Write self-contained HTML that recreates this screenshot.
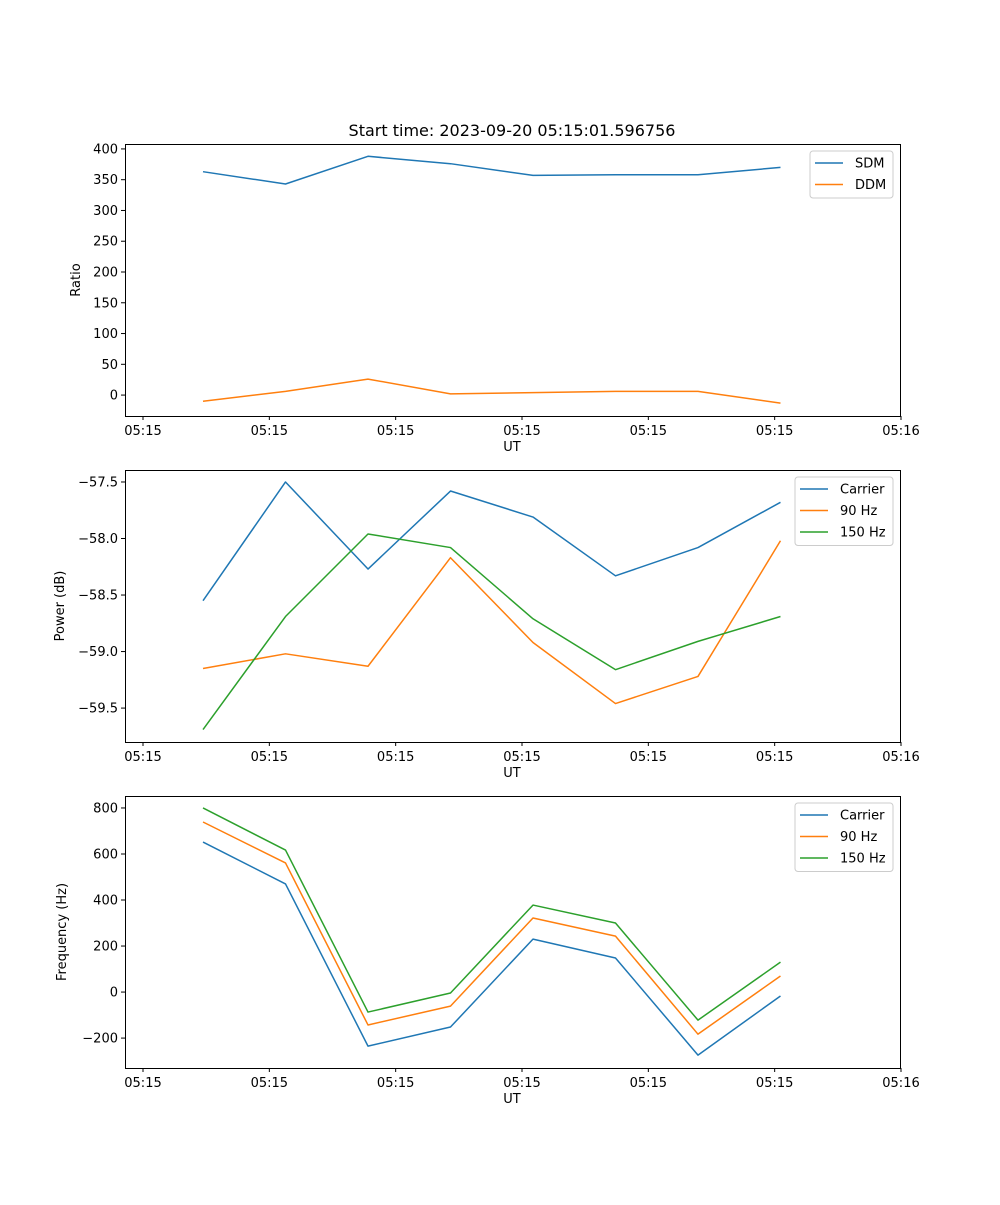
<!DOCTYPE html>
<html><head><meta charset="utf-8"><style>
body{margin:0;background:#fff}
svg text{font-family:"DejaVu Sans","Liberation Sans",sans-serif;font-size:13px;fill:#000}
</style></head><body>
<svg id="fig" width="1000" height="1200" xmlns="http://www.w3.org/2000/svg">
<rect width="1000" height="1200" fill="#fff"/>
<text x="512" y="136" text-anchor="middle" style="font-size:16px">Start time: 2023-09-20 05:15:01.596756</text>
</svg>
<script>
const xTimes = [4.75, 11.28, 17.81, 24.34, 30.87, 37.40, 43.93, 50.46];
const xTicks = [0, 10, 20, 30, 40, 50, 60];
const xTickLabels = ["05:15","05:15","05:15","05:15","05:15","05:15","05:16"];
const sdm = [363, 343, 388, 376, 357, 358, 358, 370];
const ddm = [-10, 6, 26, 2, 4, 6, 6, -13];
const powCarrier = [-58.55, -57.5, -58.27, -57.58, -57.81, -58.33, -58.08, -57.68];
const pow90 = [-59.15, -59.02, -59.13, -58.17, -58.92, -59.46, -59.22, -58.02];
const pow150 = [-59.69, -58.69, -57.96, -58.08, -58.71, -59.16, -58.91, -58.69];
const freqCarrier = [652, 470, -235, -152, 230, 148, -274, -17];
const freq90 = [739, 561, -143, -61, 322, 243, -183, 70];
const freq150 = [800, 617, -87, -4, 378, 300, -122, 130];
const ticksRatio = [0,50,100,150,200,250,300,350,400];
const ticksPow = [-59.5,-59.0,-58.5,-58.0,-57.5];
const ticksFreq = [-200,0,200,400,600,800];

const NS="http://www.w3.org/2000/svg";
const svg=document.getElementById('fig');
function mk(tag,attrs,parent){const e=document.createElementNS(NS,tag);for(const k in attrs)e.setAttribute(k,attrs[k]);(parent||svg).appendChild(e);return e;}
const L=125,R=900;
const xs=v=>143+(v-0)*(901-143)/60;
const C={blue:'#1f77b4',orange:'#ff7f0e',green:'#2ca02c'};

function panel(name,top,bot,ymin,ymax,yticks,fmt,ylabel,series,legend){
  const g=mk('g',{});
  
  
  const ys=v=>bot-(v-ymin)*(bot-top)/(ymax-ymin);
  xTicks.forEach((t,i)=>{
    mk('line',{x1:xs(t),x2:xs(t),y1:bot,y2:bot+4,stroke:'#000','stroke-width':1},g);
    const tx=mk('text',{x:xs(t),y:bot+19,'text-anchor':'middle'},g);tx.textContent=xTickLabels[i];
    
    
  });
  yticks.forEach(t=>{
    mk('line',{x1:L-4,x2:L,y1:ys(t),y2:ys(t),stroke:'#000'},g);
    const tx=mk('text',{x:L-7,y:ys(t)+4.5,'text-anchor':'end'},g);tx.textContent=fmt(t);
    
    
  });
  const xl=mk('text',{x:512,y:bot+35,'text-anchor':'middle'},g);xl.textContent='UT';
  
  
  const yl=mk('text',{x:0,y:0,'text-anchor':'middle',transform:`translate(${ylabel[1]},${(top+bot)/2}) rotate(-90)`},g);yl.textContent=ylabel[0];
  
  
  series.forEach(s=>{
    const p=mk('polyline',{points:s.d.map((v,i)=>xs(xTimes[i])+','+ys(v)).join(' '),fill:'none',stroke:s.c,'stroke-width':1.5,'stroke-linejoin':'round'},g);
    
    
  });
  mk('rect',{x:L+0.5,y:top+0.5,width:R-L,height:bot-top,fill:'none',stroke:'#000','stroke-width':1},g);
  const lg=mk('g',{},g);
  
  
  mk('rect',{x:legend[0],y:top+7,width:legend[1],height:series.length*21.5+4,rx:3,fill:'#fff','fill-opacity':0.8,stroke:'#ccc'},lg);
  series.forEach((s,i)=>{
    const yy=top+19+i*21.5;
    mk('line',{x1:legend[0]+5,x2:legend[0]+33,y1:yy,y2:yy,stroke:s.c,'stroke-width':1.5},lg);
    const t=mk('text',{x:legend[0]+45,y:yy+4.5},lg);t.textContent=s.n;
    
    
  });
}
panel('ratio',144,416,-34,408,ticksRatio,v=>v,['Ratio',80],[{n:'SDM',d:sdm,c:C.blue},{n:'DDM',d:ddm,c:C.orange}],[810,83]);
panel('power',470,742,-59.80,-57.394,ticksPow,v=>'\u2212'.repeat(1)+Math.abs(v).toFixed(1),['Power (dB)',64],[{n:'Carrier',d:powCarrier,c:C.blue},{n:'90 Hz',d:pow90,c:C.orange},{n:'150 Hz',d:pow150,c:C.green}],[795,98]);
panel('frequency',796,1068,-330,852,ticksFreq,v=>v<0?'\u2212'+Math.abs(v):v,['Frequency (Hz)',66],[{n:'Carrier',d:freqCarrier,c:C.blue},{n:'90 Hz',d:freq90,c:C.orange},{n:'150 Hz',d:freq150,c:C.green}],[795,98]);
</script>
</body></html>
